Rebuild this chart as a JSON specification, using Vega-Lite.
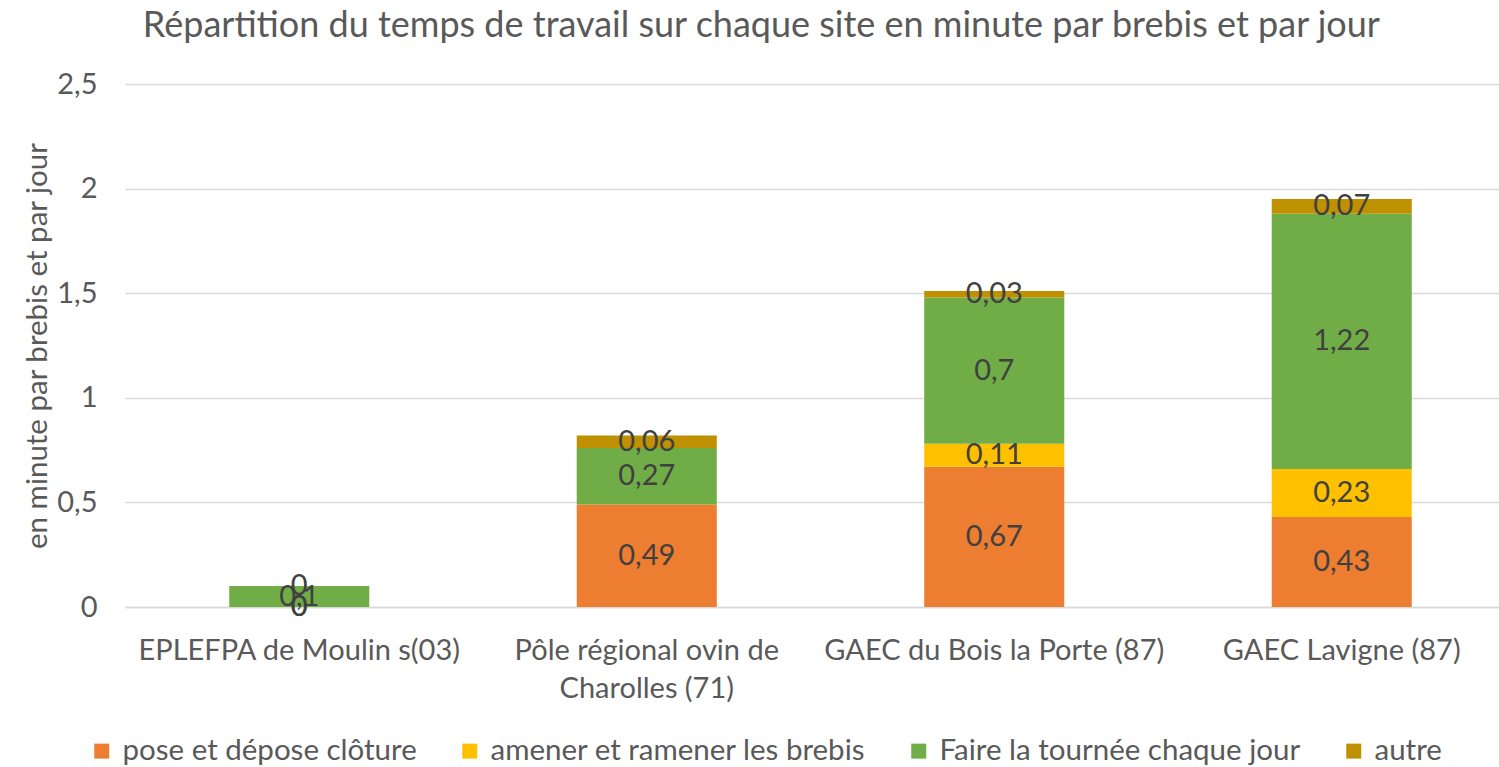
{
  "$schema": "https://vega.github.io/schema/vega-lite/v6.json",
  "width": 1391,
  "height": 523,
  "autosize": {"type": "none"},
  "padding": {"left": 125, "top": 84, "right": 0, "bottom": 160},
  "background": "white",
  "title": {
    "text": "Répartition du temps de travail sur chaque site en minute par brebis et par jour",
    "font": "Lato",
    "fontSize": 36,
    "fontWeight": "normal",
    "color": "#595959",
    "anchor": "middle",
    "frame": "bounds",
    "offset": 25,
    "dx": -8
  },
  "data": {
    "values": [
      {"site": "EPLEFPA de Moulin s(03)", "categorie": "pose et dépose clôture", "ordre": 1, "valeur": 0},
      {"site": "EPLEFPA de Moulin s(03)", "categorie": "amener et ramener les brebis", "ordre": 2, "valeur": 0},
      {"site": "EPLEFPA de Moulin s(03)", "categorie": "Faire la tournée chaque jour", "ordre": 3, "valeur": 0.1},
      {"site": "EPLEFPA de Moulin s(03)", "categorie": "autre", "ordre": 4, "valeur": 0},
      {"site": "Pôle régional ovin de Charolles (71)", "categorie": "pose et dépose clôture", "ordre": 1, "valeur": 0.49},
      {"site": "Pôle régional ovin de Charolles (71)", "categorie": "Faire la tournée chaque jour", "ordre": 3, "valeur": 0.27},
      {"site": "Pôle régional ovin de Charolles (71)", "categorie": "autre", "ordre": 4, "valeur": 0.06},
      {"site": "GAEC du Bois la Porte (87)", "categorie": "pose et dépose clôture", "ordre": 1, "valeur": 0.67},
      {"site": "GAEC du Bois la Porte (87)", "categorie": "amener et ramener les brebis", "ordre": 2, "valeur": 0.11},
      {"site": "GAEC du Bois la Porte (87)", "categorie": "Faire la tournée chaque jour", "ordre": 3, "valeur": 0.7},
      {"site": "GAEC du Bois la Porte (87)", "categorie": "autre", "ordre": 4, "valeur": 0.03},
      {"site": "GAEC Lavigne (87)", "categorie": "pose et dépose clôture", "ordre": 1, "valeur": 0.43},
      {"site": "GAEC Lavigne (87)", "categorie": "amener et ramener les brebis", "ordre": 2, "valeur": 0.23},
      {"site": "GAEC Lavigne (87)", "categorie": "Faire la tournée chaque jour", "ordre": 3, "valeur": 1.22},
      {"site": "GAEC Lavigne (87)", "categorie": "autre", "ordre": 4, "valeur": 0.07}
    ]
  },
  "transform": [
    {"stack": "valeur", "groupby": ["site"], "sort": [{"field": "ordre"}], "as": ["v0", "v1"]},
    {"calculate": "(datum.v0 + datum.v1) / 2", "as": "vmid"}
  ],
  "encoding": {
    "x": {
      "field": "site",
      "type": "nominal",
      "sort": null,
      "title": null,
      "scale": {"paddingInner": 0.597, "paddingOuter": 0.3},
      "axis": {
        "labelAngle": 0,
        "labelFont": "Lato",
        "labelFontSize": 29,
        "labelColor": "#595959",
        "labelPadding": 29,
        "labelLimit": 400,
        "labelLineHeight": 38,
        "ticks": false,
        "domainColor": "#D9D9D9",
        "domainWidth": 1.5,
        "labelExpr": "datum.label == 'Pôle régional ovin de Charolles (71)' ? ['Pôle régional ovin de', 'Charolles (71)'] : datum.label"
      }
    }
  },
  "layer": [
    {
      "mark": {"type": "bar"},
      "encoding": {
        "y": {
          "field": "v0",
          "type": "quantitative",
          "scale": {"domain": [0, 2.5], "nice": false},
          "title": "en minute par brebis et par jour",
          "axis": {
            "values": [0, 0.5, 1, 1.5, 2, 2.5],
            "format": ".1~f",
            "domain": false,
            "ticks": false,
            "labelFont": "Lato",
            "labelFontSize": 29,
            "labelColor": "#595959",
            "labelPadding": 28,
            "gridColor": "#D9D9D9",
            "gridWidth": 1.5,
            "titleFont": "Lato",
            "titleFontSize": 29.5,
            "titleFontWeight": "normal",
            "titleColor": "#595959",
            "titlePadding": 4
          }
        },
        "y2": {"field": "v1"},
        "color": {
          "field": "categorie",
          "type": "nominal",
          "sort": ["pose et dépose clôture", "amener et ramener les brebis", "Faire la tournée chaque jour", "autre"],
          "scale": {
            "domain": ["pose et dépose clôture", "amener et ramener les brebis", "Faire la tournée chaque jour", "autre"],
            "range": ["#ED7D31", "#FFC000", "#70AD47", "#BF9000"]
          },
          "legend": {
            "title": null,
            "orient": "none",
            "legendX": -38,
            "legendY": 652,
            "direction": "horizontal",
            "symbolType": "square",
            "symbolSize": 225,
            "symbolStrokeWidth": 0,
            "labelFont": "Lato",
            "labelFontSize": 29.5,
            "labelColor": "#595959",
            "labelLimit": 600,
            "columnPadding": 38,
            "labelOffset": 6
          }
        }
      }
    },
    {
      "mark": {"type": "text", "font": "Lato", "fontSize": 29, "color": "#404040", "baseline": "middle", "align": "center"},
      "encoding": {
        "y": {"field": "vmid", "type": "quantitative"},
        "text": {"field": "valeur", "type": "quantitative", "format": ".2~f"}
      }
    }
  ],
  "config": {
    "view": {"stroke": null},
    "locale": {
      "number": {"decimal": ",", "thousands": " ", "grouping": [3], "currency": ["", " €"]}
    }
  }
}
